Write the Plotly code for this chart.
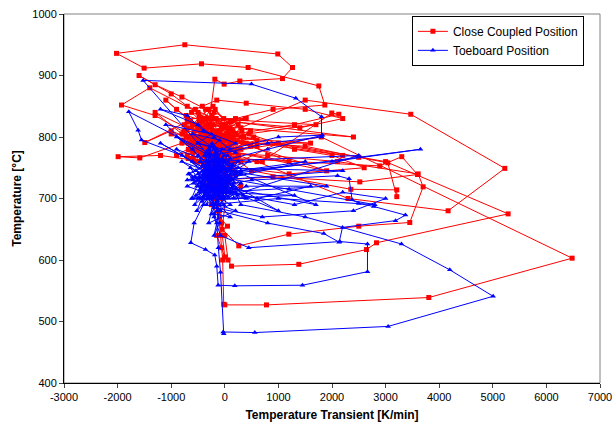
import plotly.graph_objects as go

# Close Coupled Position (red)
red_x = [-300, -186, -12, 280, 1076, 1263, 989, -746, -2020, -1505,
         -435, 435, 1754, 1866, 900, 200, -400, -150, 100, -250,
         300, 1500, 3470, 5224, 4166, 2300, 600, -100, -500, -1400,
         -1927, -1300, -600, -200, 150, -350, -50, 400, -700, -1100,
         -900, -300, 0, 1800, 6480, 3806, 778, 0, -20, -40,
         -80, -120, -200, -300, -100, 200, -450, -50, 250, -600,
         -200, 1000, 3000, 5286, 2830, 2643, 1381, 125, 60, 0,
         -60, -150, -350, -100, 300, -500, -250, 150, -150, 50,
         -50, 261, 1194, 2500, 3451, 3700, 3608, 2100, 800, -300,
         -800, -1586, -1990, -1200, -400, 0, 300, -200, 100, -350,
         500, 2351, 3209, 3209, 3041, 2500, 1500, 400, -250, -700,
         -1493, -1000, -300, 200, 2892, 3302, 3595, 2519, 900, -100,
         -300, 700, 1996, 2127, 1300, 200, -500, -900, -200, 100,
         -400, -150, 350, -600, -50, 250, -300, -800, 0, 450,
         1300, 2000, 2600, 1200, -200, -450, -100, 150, -300, 600,
         -250, -550, -150, 400, 1500, 2200, 1400, 100, -400, -100,
         -200, -50, -250, -100, 50, -150, -60, 0, -100, -300,
         -400, -200, 50, -350, -600, -250, 0, 200, -150, -450,
         -250, 100, -300, -500, -100, 300, -200, -700, -1000, -1600,
         -1300, -800, -350, 0, -300, -650, -200, 100, -400, -150,
         -640, -360, -120, 160, -480, -780, -240, 40, -560, -700,
         300, -180, -700, -60, -400, 120, -620, -280, 480, -620,
         -140, -460, 220, -760, -20, -540, -320, 80, -660, -220,
         380, -660, -100, -420, 140, -740, -300, 0, -520, -720,
         -160, 260, -600, -40, -360, -680, 180, -480, -260, 60,
         -680, -120, 600, -560, -200, -600, 20, -440, -340, -780,
         -80, 320, -620, -240, -500, 100, -640, -180, -400, 540,
         -720, -40, -300, -580, 160, -680, -140, -380, -680, 40,
         -260, -520, 340, -100, -760, -460, -220, 120, -600, -320,
         -40, -700, -180, 480, -540, -400, -700, -20, -280, -120,
         -300, 1600, -200, 2200, -400, 1900, -100, 1200, -500, 2400,
         -300, 1700, 0, -1000, -300, -1300, -100]
red_t = [820, 894, 886, 891, 895, 913, 935, 950, 936, 912,
         919, 913, 883, 852, 845, 830, 810, 790, 800, 770,
         815, 860, 837, 749, 680, 700, 760, 780, 840, 880,
         852, 835, 800, 760, 745, 790, 820, 830, 830, 860,
         845, 805, 775, 800, 603, 539, 527, 527, 528, 600,
         640, 680, 720, 750, 770, 790, 815, 800, 770, 780,
         740, 790, 760, 675, 628, 617, 593, 590, 600, 640,
         660, 700, 735, 760, 780, 800, 830, 810, 745, 725,
         650, 623, 642, 655, 661, 719, 740, 760, 770, 775,
         790, 766, 768, 770, 760, 740, 720, 700, 760, 800,
         745, 715, 714, 703, 758, 767, 785, 790, 805, 825,
         791, 810, 785, 765, 753, 768, 739, 727, 735, 730,
         760, 760, 839, 837, 820, 805, 790, 770, 790, 815,
         830, 805, 800, 765, 790, 820, 845, 805, 795, 805,
         780, 770, 750, 740, 755, 780, 810, 790, 770, 795,
         815, 845, 860, 855, 845, 830, 815, 825, 800, 745,
         720, 700, 690, 670, 655, 640, 620, 605, 680, 720,
         770, 785, 780, 810, 820, 800, 770, 740, 770, 795,
         765, 735, 730, 760, 790, 760, 830, 850, 870, 900,
         885, 865, 845, 820, 790, 800, 775, 770, 755, 770,
         790, 810, 770, 795, 825, 805, 835, 760, 780, 815,
         800, 845, 770, 815, 790, 825, 785, 760, 810, 840,
         800, 775, 780, 820, 830, 795, 755, 805, 790, 820,
         830, 780, 765, 850, 800, 810, 790, 815, 760, 800,
         830, 770, 820, 790, 805, 780, 760, 835, 795, 810,
         765, 805, 785, 810, 840, 790, 800, 760, 820, 795,
         780, 810, 800, 770, 815, 790, 825, 800, 775, 800,
         835, 760, 820, 805, 780, 765, 795, 830, 790, 815,
         800, 780, 790, 760, 810, 820, 850, 810, 775, 795,
         815, 800, 830, 785, 760, 790, 800, 795, 820, 805,
         790, 790, 800, 770, 810, 745, 780, 760, 820, 800,
         830, 820, 800, 805, 770, 840, 790]

# Toeboard Position (blue)
blue_x = [-200, -1524, 498, 1325, 1804, 1804, 800, -200, -1791, -1617,
          -1554, -800, -300, 0, -250, 100, 3650, 2000, 300, -150,
          -400, -572, -634, -360, -187, -150, -124, 187, 1449, 2662,
          2662, 2146, 448, -80, -200, -100, 200, -300, 0, -200,
          300, 1500, 3296, 4198, 5006, 3047, 560, -31, -20, -80,
          -120, -150, -250, -50, 250, -400, -100, 200, -300, -150,
          500, 2103, 2319, 2375, 2500, 2780, 3371, 3185, 2196, 2133,
          1847, 800, -100, -350, -200, 100, -450, -150, 150, -250,
          1000, 2800, 1200, -100, -600, -900, -300, 0, 300, -200,
          -100, -200, -50, 400, 1600, 600, -300, -500, -250, 50,
          -150, 200, -400, -700, -1200, -500, -200, 100, 1000, 1823,
          800, -100, -350, -150, 100, -250, -50, -300, 0, 350,
          1300, 2200, 3000, 2400, 700, -200, -450, -150, 150, -350,
          -100, -600, -250, 50, -200, -400, -100, 200, -50, -300,
          0, -200, 100, -150, 300, -350, -150, -500, -250, -1100,
          -500, -100, 250, -200, -50, -280, 100, -400, -150, -50,
          -300, -120, -500, 60, -360, -640, -180, 120, -440, -20,
          -280, -560, 200, -400, -80, -700, -220, 20, -520, -140,
          300, -380, -60, -600, -240, 80, -460, -160, -340, -40,
          -540, 180, -300, -100, -660, -200, 40, -420, -260, -120,
          -480, 140, -360, -20, -580, -220, 240, -320, -80, -440,
          -160, 0, -520, -280, 100, -620, -200, -60, -400, 160,
          -340, -100, -480, 20, -260, -560, -140, 220, -380, -40,
          -180, -460, 80, -300, -600, -120, -420, -240, 60, -360,
          -40, -540, -200, 120, -320, -80, -680, -160, -400, 0,
          -260, -500, 180, -120, -380, -220, -60, -440, -300, -140,
          -200, 1500, -100, 2200, -300, 1900, -150, 1300, -50, 2500,
          -250, 1700, -100, 1000, -600, -1200, -200,
          -800, -100, -900, 300, -700, 450, -600, 400, -500, 200]
blue_t = [760, 892, 886, 863, 833, 800, 790, 770, 841, 811,
          795, 770, 740, 720, 700, 740, 780, 760, 745, 725,
          690, 660, 628, 617, 608, 590, 559, 558, 559, 581,
          626, 630, 620, 640, 670, 700, 710, 730, 750, 780,
          690, 670, 626, 584, 541, 492, 482, 483, 480, 580,
          620, 660, 700, 730, 760, 745, 690, 680, 660, 720,
          730, 737, 732, 698, 692, 687, 673, 664, 653, 629,
          643, 660, 680, 710, 745, 765, 760, 740, 720, 690,
          700, 690, 715, 735, 780, 800, 770, 760, 740, 710,
          660, 640, 700, 720, 720, 700, 720, 740, 760, 745,
          775, 790, 810, 835, 845, 820, 800, 780, 800, 803,
          780, 760, 740, 705, 690, 675, 715, 750, 735, 705,
          690, 710, 700, 680, 670, 685, 720, 750, 755, 775,
          795, 805, 785, 770, 730, 700, 720, 735, 765, 715,
          700, 675, 670, 695, 725, 760, 780, 790, 805, 820,
          770, 745, 750, 765, 710, 740, 750, 730, 760, 780,
          740, 720, 700, 760, 735, 750, 690, 745, 725, 770,
          710, 735, 715, 755, 700, 720, 745, 730, 680, 765,
          740, 705, 750, 730, 720, 700, 760, 735, 690, 715,
          745, 725, 780, 705, 740, 760, 720, 695, 735, 750,
          710, 730, 770, 690, 725, 745, 705, 715, 760, 700,
          740, 730, 720, 755, 710, 700, 785, 725, 740, 720,
          700, 760, 735, 715, 745, 690, 725, 740, 770, 705,
          730, 715, 745, 700, 735, 760, 720, 790, 710, 740,
          725, 705, 750, 730, 700, 680, 740, 765, 720, 710,
          745, 730, 700, 760, 715, 735, 700, 725, 780, 745,
          740, 760, 730, 745, 750, 720, 710, 705, 700, 770,
          760, 690, 720, 680, 760, 790, 740,
          760, 720, 780, 740, 730, 760, 700, 700, 790, 775]

x_ticks = list(range(-3000, 7001, 1000))
x_tick_text = [str(v) for v in x_ticks]
y_ticks = list(range(400, 1001, 100))

fig = go.Figure()
fig.add_trace(go.Scatter(
    x=red_x, y=red_t, mode="lines+markers", name="Close Coupled Position",
    line=dict(color="#ff0000", width=1),
    marker=dict(symbol="square", size=5, color="#ff0000"),
))
fig.add_trace(go.Scatter(
    x=blue_x, y=blue_t, mode="lines+markers", name="Toeboard Position",
    line=dict(color="#0000ff", width=1),
    marker=dict(symbol="triangle-up", size=5, color="#0000ff"),
))

fig.update_layout(
    width=613, height=428,
    margin=dict(l=64, r=13, t=14, b=45, autoexpand=False),
    paper_bgcolor="white", plot_bgcolor="white",
    font=dict(family="Arial, Liberation Sans", size=11, color="#000000"),
    legend=dict(x=0.97, y=0.995, xanchor="right", yanchor="top",
                bordercolor="#000000", borderwidth=1, bgcolor="white",
                font=dict(size=12), tracegroupgap=0),
    shapes=[dict(type="rect", xref="paper", yref="paper", x0=0, y0=0, x1=1, y1=1,
                 line=dict(color="#808080", width=1), layer="below")],
)
fig.update_xaxes(
    range=[-3000, 7000], tickvals=x_ticks, ticktext=x_tick_text, ticks="outside", ticklen=4,
    showline=True, linecolor="#000000", linewidth=1, showgrid=False, zeroline=False,
    automargin=False,
    title=dict(text="<b>Temperature Transient [K/min]</b>", font=dict(size=12), standoff=8),
)
fig.update_yaxes(
    range=[400, 1000], tickvals=y_ticks, ticks="outside", ticklen=4,
    showline=True, linecolor="#000000", linewidth=1, showgrid=False, zeroline=False,
    automargin=False,
    title=dict(text="<b>Temperature [°C]</b>", font=dict(size=12), standoff=8),
)

fig.write_html("out.html")
